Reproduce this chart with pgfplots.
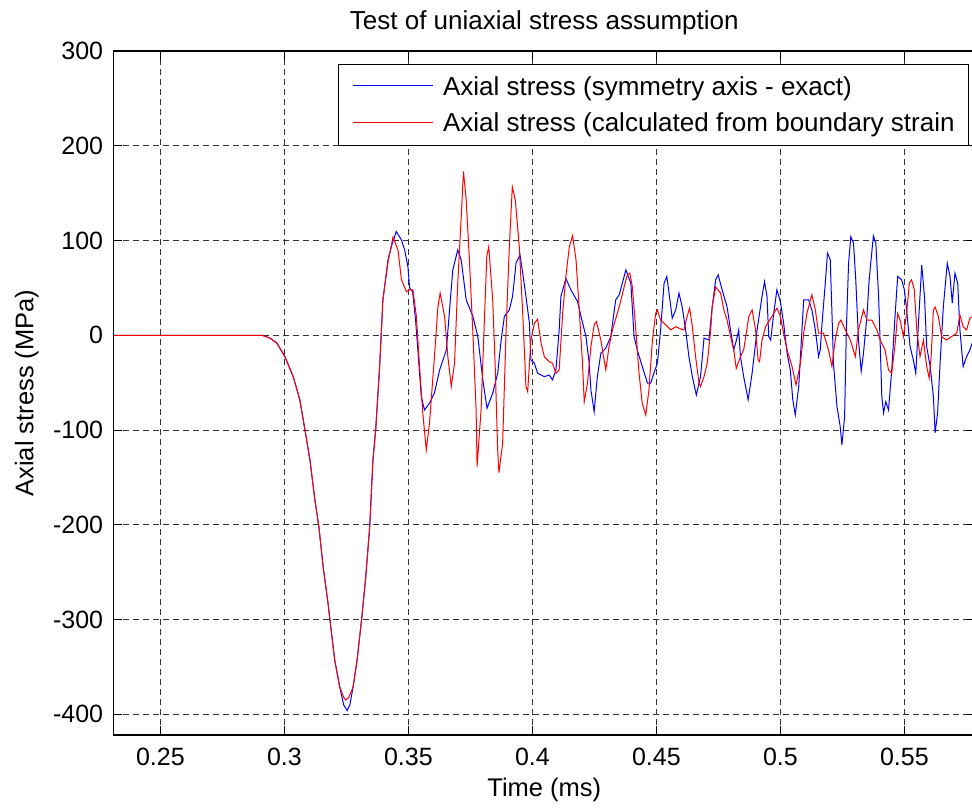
\documentclass[border=0pt]{standalone}
\usepackage{pgfplots}
\usepackage{pgfplotstable}
\pgfplotsset{compat=1.18}
\usepackage{fontspec}
\setmainfont{Liberation Sans}
\pgfplotstableread{
x y
0.2310 0
0.2910 0
0.2942 -3
0.2969 -8
0.3002 -22.5
0.3036 -44
0.3062 -68
0.3083 -100
0.3103 -131.6
0.3123 -174
0.3139 -202
0.3156 -244
0.3176 -283
0.3190 -314.5
0.3203 -343
0.3223 -371
0.3239 -390
0.3253 -396
0.3264 -390
0.3277 -371
0.3293 -343
0.3311 -300.5
0.3328 -255
0.3344 -202
0.3357 -131.6
0.3368 -100
0.3384 -33
0.3397 37
0.3418 80
0.3433 95
0.3451 109.5
0.3472 100.7
0.3485 90
0.3498 72.5
0.3505 50
0.3517 46
0.3529 16
0.3538 -15.4
0.3552 -64.7
0.3565 -78.8
0.3585 -71.7
0.3605 -61
0.3626 -36.5
0.3653 -15.4
0.3666 26.8
0.3679 69
0.3699 90
0.3713 79.6
0.3733 37.4
0.3760 20
0.3780 -1.4
0.3800 -47
0.3817 -77
0.3840 -61
0.3860 -40
0.3874 -5
0.3887 20
0.3907 26.8
0.3920 41
0.3934 76
0.3950 85
0.3961 65.6
0.3974 41
0.3988 12.8
0.3994 -26
0.4008 -29.5
0.4021 -40
0.4048 -43.6
0.4068 -42
0.4081 -47
0.4095 -36.5
0.4108 5.7
0.4115 41
0.4135 60
0.4155 48
0.4182 35.6
0.4196 20
0.4216 -1.4
0.4229 -29.5
0.4236 -57.6
0.4249 -80.6
0.4262 -43.6
0.4276 -19
0.4296 -13.6
0.4316 -1.4
0.4336 37.4
0.4350 42.7
0.4377 69
0.4397 55
0.4410 -1.4
0.4423 -15.4
0.4443 -33
0.4464 -50.6
0.4477 -50.6
0.4490 -40
0.4504 -29.5
0.4517 5.7
0.4531 55
0.4542 62
0.4551 44.5
0.4564 18
0.4578 26.8
0.4591 44.5
0.4604 30
0.4618 5.7
0.4631 -22.5
0.4645 -43.6
0.4661 -63
0.4678 -43.6
0.4692 -3
0.4712 -5
0.4725 30
0.4739 58.5
0.4749 63.8
0.4765 48
0.4785 30
0.4799 5.7
0.4812 -15.4
0.4823 -5
0.4832 5.7
0.4839 -22.5
0.4852 -43.6
0.4870 -68
0.4886 -40
0.4906 5.7
0.4926 41
0.4936 56.7
0.4946 41
0.4953 -1.4
0.4961 -5
0.4973 23
0.4986 48
0.5000 35.6
0.5013 12.8
0.5027 -19
0.5040 -36.5
0.5050 -68
0.5060 -84
0.5074 -54
0.5087 5.7
0.5094 37.4
0.5114 37.4
0.5127 26.8
0.5141 5.7
0.5154 -22.5
0.5161 -15
0.5167 9
0.5181 55
0.5190 86.7
0.5201 80
0.5208 23
0.5214 -29.5
0.5228 -75
0.5241 -96
0.5248 -115.7
0.5259 -86
0.5266 5.7
0.5275 76
0.5284 104
0.5295 97
0.5304 58.5
0.5315 -5
0.5326 -38
0.5335 -19
0.5349 20
0.5358 58.5
0.5375 105
0.5385 97
0.5396 41
0.5402 -5
0.5409 -64.7
0.5416 -82
0.5425 -70
0.5436 -78.8
0.5449 -36.5
0.5463 23
0.5473 62
0.5489 58.5
0.5500 48
0.5509 26.8
0.5523 -12
0.5536 -26
0.5546 -40
0.5556 9
0.5570 74
0.5581 41
0.5590 -12
0.5604 -33
0.5617 -64.7
0.5624 -103
0.5634 -82
0.5644 -29.5
0.5657 30
0.5673 76
0.5684 62
0.5693 34
0.5704 65.6
0.5715 55
0.5724 5.7
0.5737 -33
0.5751 -22.5
0.5764 -15.4
0.5778 -5
0.5790 0
}\exact
\pgfplotstableread{
x y
0.2310 0
0.2910 0
0.2942 -3
0.2969 -8
0.3002 -22.5
0.3036 -44
0.3062 -68
0.3083 -100
0.3103 -131.6
0.3123 -174
0.3139 -202
0.3156 -244
0.3176 -283
0.3190 -314.5
0.3203 -343
0.3223 -371
0.3239 -382
0.3247 -385
0.3260 -382
0.3277 -371
0.3293 -343
0.3311 -300.5
0.3328 -255
0.3344 -202
0.3357 -131.6
0.3368 -100
0.3384 -33
0.3397 37
0.3418 78
0.3438 103.6
0.3458 90
0.3472 58.5
0.3492 46
0.3505 48
0.3518 48
0.3532 20
0.3545 -33
0.3558 -82
0.3572 -121
0.3585 -93
0.3605 -22.5
0.3619 30
0.3628 44.5
0.3646 20
0.3659 -22.5
0.3673 -54
0.3686 -29.5
0.3699 55
0.3713 125
0.3722 173
0.3733 143
0.3746 79.6
0.3760 2.5
0.3773 -78.8
0.3777 -138.6
0.3793 -78.8
0.3807 20
0.3816 83
0.3824 93.6
0.3840 37
0.3850 -33
0.3860 -121
0.3865 -145
0.3880 -114
0.3894 5.7
0.3907 93.6
0.3919 156.6
0.3931 143
0.3947 93.6
0.3961 23
0.3974 -54
0.3981 -59.5
0.3994 -5
0.4008 12.8
0.4021 17
0.4035 -8.3
0.4048 -22.5
0.4068 -27.8
0.4081 -29.5
0.4095 -40
0.4108 -36.5
0.4122 23
0.4135 62
0.4149 93.6
0.4162 105
0.4176 79.6
0.4189 26.8
0.4202 -29.5
0.4209 -70
0.4222 -50.6
0.4236 -12
0.4249 11
0.4258 14.5
0.4276 -5
0.4289 -26
0.4296 -36.5
0.4309 -12
0.4323 5.7
0.4350 30
0.4370 51
0.4383 64
0.4393 65.6
0.4403 51
0.4417 5.7
0.4430 -40
0.4443 -71.7
0.4457 -84
0.4470 -57.6
0.4484 -5
0.4497 23
0.4504 26.8
0.4517 16
0.4538 11
0.4558 5.7
0.4578 9
0.4595 7
0.4611 5.7
0.4624 20
0.4634 28.6
0.4645 9
0.4658 -22.5
0.4672 -50.6
0.4678 -54
0.4692 -43.6
0.4705 -29.5
0.4719 5.7
0.4725 30
0.4739 51
0.4759 44.5
0.4772 26.8
0.4785 16
0.4799 -1.4
0.4812 -15.4
0.4822 -35
0.4839 -22.5
0.4852 -15.4
0.4873 20
0.4886 26.8
0.4900 5.7
0.4910 -26
0.4916 -27.8
0.4926 -5
0.4940 9
0.4966 20
0.4986 28.6
0.5000 20
0.5013 2.2
0.5027 -15.4
0.5047 -33
0.5063 -52.4
0.5081 -29.5
0.5094 2.5
0.5107 23
0.5121 37.4
0.5127 42.7
0.5141 26.8
0.5154 2.2
0.5174 2.2
0.5194 -15.4
0.5208 -33
0.5221 -5
0.5235 12.8
0.5244 16
0.5262 5.7
0.5282 -5
0.5302 -22.5
0.5315 5.7
0.5335 26.8
0.5349 16
0.5369 16
0.5389 5.7
0.5402 -5
0.5422 -15.4
0.5436 -36.5
0.5449 -40
0.5463 -8.3
0.5473 23
0.5483 16
0.5496 -1.4
0.5509 23
0.5520 55
0.5529 58.5
0.5540 48
0.5550 5.7
0.5563 -22.5
0.5577 -5
0.5590 -33
0.5600 -45
0.5608 -22.5
0.5617 26.8
0.5624 29.7
0.5637 20
0.5650 -1.4
0.5670 -5
0.5690 -1.4
0.5711 2.2
0.5724 21.5
0.5737 9
0.5751 5.7
0.5764 18
0.5778 20
0.5790 18
}\calc
\begin{document}
\begin{tikzpicture}
\begin{axis}[
  scale only axis, width=862pt, height=684pt,
  xmin=0.2310, xmax=0.5786, ymin=-421.8, ymax=300,
  xtick={0.25,0.3,0.35,0.4,0.45,0.5,0.55},
  xticklabels={0.25,0.3,0.35,0.4,0.45,0.5,0.55},
  ytick={-400,-300,-200,-100,0,100,200,300},
  yticklabels={-400,-300,-200,-100,0,100,200,300},
  tick align=inside, major tick length=9pt,
  every tick/.style={black, line width=0.9pt},
  axis line style={line width=1.1pt},
  grid=major,
  major grid style={black!80, line width=0.8pt, dash pattern=on 6pt off 4pt},
  ticklabel style={font=\fontsize{25}{30}\selectfont},
  xticklabel style={anchor=base, yshift=-30pt, inner sep=0pt},
  yticklabel style={anchor=east, xshift=-10pt, inner sep=0pt},
  xlabel={Time (ms)}, ylabel={Axial stress (MPa)},
  label style={font=\fontsize{25.5}{30}\selectfont},
  xlabel style={at={(axis description cs:0.5,0)}, anchor=base, yshift=-61pt, inner sep=0pt},
  ylabel style={at={(axis description cs:-0.0928,0.5)}, anchor=base, inner sep=0pt},
  title={Test of uniaxial stress assumption},
  title style={at={(axis description cs:0.5,1)}, anchor=base, yshift=15.7pt, inner sep=0pt, font=\fontsize{26}{31}\selectfont},
  legend style={at={(0.9927,0.9806)}, anchor=north east, draw=black, line width=0.9pt, fill=white,
    inner xsep=14pt, inner ysep=12pt, row sep=16pt, column sep=9pt,
    nodes={inner sep=0pt}, font=\fontsize{26}{31}\selectfont},
  legend cell align=left,
  legend image code/.code={\draw[#1, line width=1.1pt] (0pt,1pt) -- (80pt,1pt);},
]
\addplot[draw=blue, line width=1pt] table[x=x, y=y] {\exact};
\addlegendentry{Axial stress (symmetry axis - exact)}
\addplot[draw=red, line width=1pt] table[x=x, y=y] {\calc};
\addlegendentry{Axial stress (calculated from boundary strain}
\end{axis}
\pgfresetboundingbox
\path (-113.3pt,-74pt) rectangle (858.7pt,735pt);
\end{tikzpicture}
\end{document}
